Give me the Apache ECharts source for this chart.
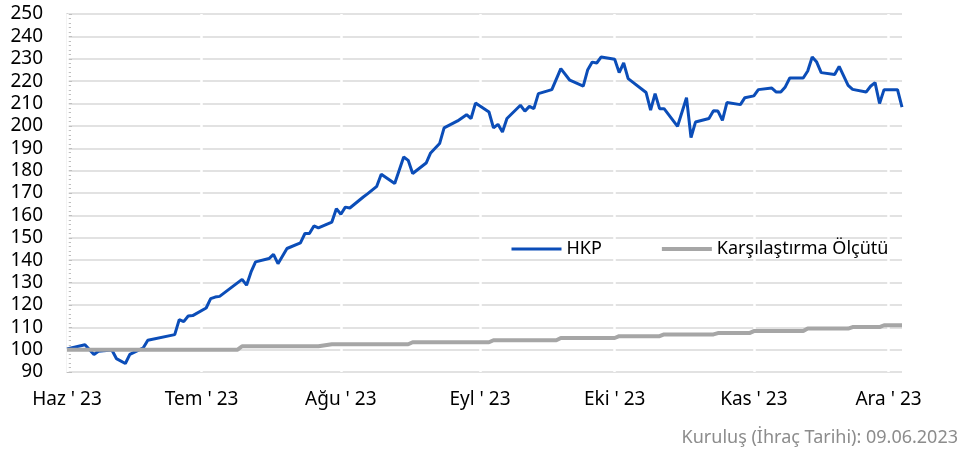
<!DOCTYPE html>
<html>
<head>
<meta charset="utf-8">
<script src="https://cdn.jsdelivr.net/npm/echarts@6/dist/echarts.min.js"></script>
<style>
  html, body { margin: 0; padding: 0; background: #fff; }
  #chart { width: 979px; height: 457px; }
</style>
</head>
<body>
<div id="chart"></div>
<script>
// HKP fon getirisi (endeks, 09.06.2023 = 100)
var hkpDates = [
  '2023-06-09','2023-06-13','2023-06-15','2023-06-16','2023-06-19','2023-06-20','2023-06-22','2023-06-23',
  '2023-06-26','2023-06-27','2023-07-03','2023-07-04','2023-07-05','2023-07-06','2023-07-07','2023-07-10',
  '2023-07-11','2023-07-12','2023-07-13','2023-07-18','2023-07-19','2023-07-20','2023-07-21','2023-07-24',
  '2023-07-25','2023-07-26','2023-07-28','2023-07-31','2023-08-01','2023-08-02','2023-08-03','2023-08-04',
  '2023-08-07','2023-08-08','2023-08-09','2023-08-10','2023-08-11','2023-08-14','2023-08-15','2023-08-17',
  '2023-08-18','2023-08-21','2023-08-23','2023-08-24','2023-08-25','2023-08-28','2023-08-29','2023-08-31',
  '2023-09-01','2023-09-04','2023-09-06','2023-09-07','2023-09-08','2023-09-11','2023-09-12','2023-09-13',
  '2023-09-14','2023-09-15','2023-09-18','2023-09-19','2023-09-20','2023-09-21','2023-09-22','2023-09-25',
  '2023-09-27','2023-09-29','2023-10-02','2023-10-03','2023-10-04','2023-10-05','2023-10-06','2023-10-09',
  '2023-10-10','2023-10-11','2023-10-12','2023-10-16','2023-10-17','2023-10-18','2023-10-19','2023-10-20',
  '2023-10-23','2023-10-25','2023-10-26','2023-10-27','2023-10-30','2023-10-31','2023-11-01','2023-11-02',
  '2023-11-03','2023-11-06','2023-11-07','2023-11-09','2023-11-10','2023-11-13','2023-11-14','2023-11-15',
  '2023-11-16','2023-11-17','2023-11-20','2023-11-21','2023-11-22','2023-11-23','2023-11-24','2023-11-27',
  '2023-11-28','2023-11-30','2023-12-01','2023-12-04','2023-12-05','2023-12-06','2023-12-07','2023-12-08',
  '2023-12-11','2023-12-12'
];
var hkpValues = [
  100.3, 102.2, 97.8, 99.3, 99.8, 96.0, 93.8, 97.9,
  100.8, 104.2, 106.7, 113.4, 112.5, 115.0, 115.2, 118.6,
  122.8, 123.5, 123.8, 131.4, 128.8, 134.7, 139.2, 140.7,
  142.6, 138.4, 145.2, 147.7, 151.9, 151.9, 155.3, 154.4,
  157.0, 163.0, 160.5, 163.7, 163.3, 168.2, 169.7, 173.0,
  178.4, 174.2, 186.1, 184.6, 178.7, 183.4, 187.9, 192.1,
  199.1, 202.2, 205.0, 203.3, 210.2, 206.2, 199.1, 200.7,
  197.3, 203.3, 209.2, 206.6, 208.7, 207.7, 214.4, 216.2,
  225.6, 220.4, 217.8, 225.1, 228.5, 228.1, 230.8, 229.8,
  223.8, 228.1, 221.1, 214.9, 207.0, 214.4, 207.7, 207.7,
  199.8, 212.6, 194.8, 201.7, 203.3, 206.8, 206.6, 202.5,
  210.4, 209.5, 212.6, 213.4, 216.2, 216.9, 215.1, 215.1,
  217.4, 221.4, 221.4, 224.5, 230.8, 228.5, 223.8, 223.0,
  226.6, 218.1, 216.3, 215.1, 217.7, 219.3, 210.0, 216.2,
  216.2, 208.4
];

// Karşılaştırma ölçütü (basamaklı artış)
var benchDates = [
  '2023-06-09','2023-07-17','2023-07-18','2023-08-04','2023-08-07','2023-08-24','2023-08-25',
  '2023-09-11','2023-09-12','2023-09-26','2023-09-27','2023-10-09','2023-10-10','2023-10-19',
  '2023-10-20','2023-10-31','2023-11-01','2023-11-08','2023-11-09','2023-11-20','2023-11-21',
  '2023-11-30','2023-12-01','2023-12-07','2023-12-08','2023-12-12'
];
var benchValues = [
  100.0, 100.0, 101.5, 101.5, 102.4, 102.4, 103.3,
  103.3, 104.2, 104.2, 105.2, 105.2, 106.0, 106.0,
  106.8, 106.8, 107.4, 107.4, 108.3, 108.3, 109.4,
  109.4, 110.1, 110.1, 110.9, 110.9
];

var xTickDates = ['2023-06-09','2023-07-09','2023-08-09','2023-09-09','2023-10-09','2023-11-09','2023-12-09'];
var xTickLabels = ["Haz ' 23", "Tem ' 23", "Ağu ' 23", "Eyl ' 23", "Eki ' 23", "Kas ' 23", "Ara ' 23"];
var xMin = '2023-06-09';
var xMax = '2023-12-12';
var yMin = 90, yMax = 250, yStep = 10;

var seriesNames = ['HKP', 'Karşılaştırma Ölçütü'];
var footNote = 'Kuruluş (İhraç Tarihi): 09.06.2023';

var FONT = '"Noto Sans", "Liberation Sans", sans-serif';

function toTs(s) {
  var p = s.split('-');
  return new Date(+p[0], +p[1] - 1, +p[2]).getTime();
}

var tickTs = xTickDates.map(toTs);

var hkpData = hkpDates.map(function (d, i) { return [toTs(d), hkpValues[i]]; });
var benchData = benchDates.map(function (d, i) { return [toTs(d), benchValues[i]]; });

var myChart = echarts.init(document.getElementById('chart'));
var option = {
  animation: false,
  backgroundColor: '#fff',
  grid: { left: 67, right: 77, top: 14, bottom: 85, containLabel: false },
  legend: {
    left: 505,
    top: 235,
    itemWidth: 50,
    itemHeight: 14,
    itemGap: 58,
    itemStyle: { opacity: 0 },
    textStyle: { fontFamily: FONT, fontSize: 18, color: '#000' },
    data: [
      { name: seriesNames[0], lineStyle: { width: 3 } },
      { name: seriesNames[1], lineStyle: { width: 4 } }
    ]
  },
  xAxis: {
    type: 'value',
    min: toTs(xMin),
    max: toTs(xMax),
    z: 1,
    axisLine: { show: false },
    axisTick: { show: false, customValues: tickTs },
    axisLabel: {
      customValues: tickTs,
      margin: 18,
      fontFamily: FONT,
      fontSize: 19,
      color: '#000',
      formatter: function (v) {
        var i = tickTs.indexOf(v);
        return i >= 0 ? xTickLabels[i] : '';
      }
    },
    splitLine: { show: true, lineStyle: { color: '#ffffff', width: 2.5 } }
  },
  yAxis: {
    type: 'value',
    min: yMin,
    max: yMax,
    interval: yStep,
    axisLine: { show: true, lineStyle: { color: '#BFBFBF', width: 1.5 } },
    axisTick: { show: true, inside: true, length: 5, lineStyle: { color: '#BFBFBF' } },
    minorTick: { show: true, splitNumber: 5, length: 4, lineStyle: { color: '#BFBFBF' } },
    axisLabel: { margin: 24, fontFamily: FONT, fontSize: 19, color: '#000' },
    splitLine: { show: true, lineStyle: { color: '#D9D9D9', width: 1.5 } }
  },
  graphic: [{
    type: 'text',
    right: 21,
    top: 429,
    style: { text: footNote, fontFamily: FONT, fontSize: 18, fill: '#8C8C8C' }
  }],
  series: [
    {
      name: seriesNames[0],
      type: 'line',
      data: hkpData,
      symbol: 'none',
      z: 3,
      lineStyle: { color: '#0B4DB8', width: 3 },
      itemStyle: { color: '#0B4DB8' }
    },
    {
      name: seriesNames[1],
      type: 'line',
      data: benchData,
      symbol: 'none',
      z: 4,
      lineStyle: { color: '#A6A6A6', width: 4 },
      itemStyle: { color: '#A6A6A6' }
    }
  ]
};
option && myChart.setOption(option);
</script>
</body>
</html>
